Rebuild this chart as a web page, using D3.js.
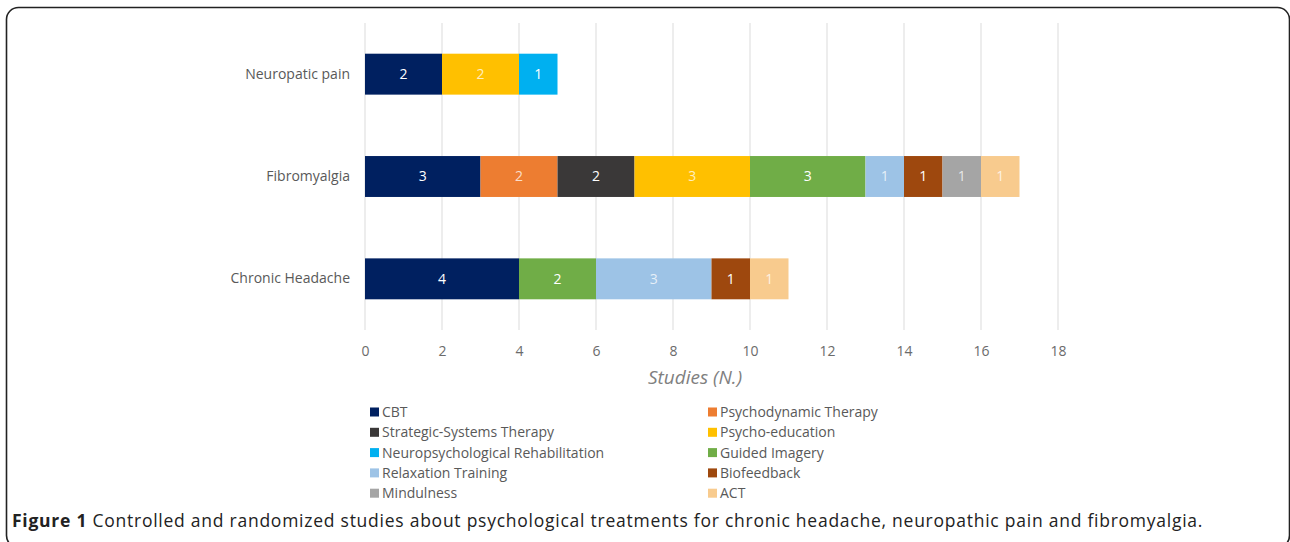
<!DOCTYPE html>
<html lang="en">
<head>
    <meta charset="UTF-8">
    <script src="https://cdn.jsdelivr.net/npm/d3@7"></script>
    <title>Figure 1</title>
    <style>
        body { margin: 0; background: #fff; }
        svg { display: block; }
        text { font-family: "Open Sans", sans-serif; }
    </style>
</head>
<body>
    <div id="chart"></div>
    <script>
        const width = 1290;
        const height = 542;

        const categories = ["Neuropatic pain", "Fibromyalgia", "Chronic Headache"];
        const seriesNames = ["CBT", "Psychodynamic Therapy", "Strategic-Systems Therapy", "Psycho-education",
            "Neuropsychological Rehabilitation", "Guided Imagery", "Relaxation Training", "Biofeedback",
            "Mindulness", "ACT"];
        const seriesColors = ["#002060", "#ED7D31", "#3A3838", "#FFC000", "#00B0F0",
            "#70AD47", "#9DC3E6", "#9E480E", "#A5A5A5", "#F8CB8E"];
        // values per category: [Neuropatic pain, Fibromyalgia, Chronic Headache]
        const cbt = [2, 3, 4];
        const psychodynamic = [0, 2, 0];
        const strategic = [0, 2, 0];
        const psychoEducation = [2, 3, 0];
        const neuroRehab = [1, 0, 0];
        const guidedImagery = [0, 3, 2];
        const relaxation = [0, 1, 3];
        const biofeedback = [0, 1, 1];
        const mindfulness = [0, 1, 0];
        const act = [0, 1, 1];
        const xTicks = [0, 2, 4, 6, 8, 10, 12, 14, 16, 18];

        const seriesValues = [cbt, psychodynamic, strategic, psychoEducation, neuroRehab,
            guidedImagery, relaxation, biofeedback, mindfulness, act];

        const rows = categories.map((c, i) => {
            const r = { category: c };
            seriesNames.forEach((s, j) => r[s] = seriesValues[j][i]);
            return r;
        });

        const svg = d3.select("#chart").append("svg")
            .attr("width", width)
            .attr("height", height);

        // frame
        svg.append("rect")
            .attr("x", 6.5).attr("y", 7.5)
            .attr("width", 1283).attr("height", 540)
            .attr("rx", 12)
            .attr("fill", "none")
            .attr("stroke", "#222")
            .attr("stroke-width", 1.6);

        const x = d3.scaleLinear().domain([0, 18]).range([365, 1058]);
        const y = d3.scaleBand().domain(categories).range([23, 330]).paddingInner(0.6).paddingOuter(0.3);
        const color = d3.scaleOrdinal().domain(seriesNames).range(seriesColors);

        // gridlines
        svg.append("g")
            .selectAll("line")
            .data(xTicks)
            .join("line")
            .attr("x1", d => x(d)).attr("x2", d => x(d))
            .attr("y1", 23).attr("y2", 330)
            .attr("stroke", "#e4e4e4")
            .attr("stroke-width", 1.3);

        // x axis labels
        const xAxis = d3.axisBottom(x).tickValues(xTicks).tickSize(0).tickPadding(0);
        const gx = svg.append("g").attr("transform", "translate(0,346)").call(xAxis);
        gx.select(".domain").remove();
        gx.selectAll("text")
            .attr("fill", "#6b6b6b")
            .style("font-size", "14px")
            .attr("dy", "0.71em");

        svg.append("text")
            .attr("x", 695).attr("y", 384)
            .attr("text-anchor", "middle")
            .attr("fill", "#808080")
            .style("font-size", "19px")
            .style("font-style", "italic")
            .text("Studies (N.)");

        // y axis labels
        const yAxis = d3.axisLeft(y).tickSize(0).tickPadding(15);
        const gy = svg.append("g").attr("transform", "translate(365,0)").call(yAxis);
        gy.select(".domain").remove();
        gy.selectAll("text")
            .attr("fill", "#595959")
            .style("font-size", "14px");

        // stacked bars
        const stacked = d3.stack().keys(seriesNames)(rows);
        const layers = svg.append("g")
            .selectAll("g")
            .data(stacked)
            .join("g")
            .attr("fill", d => color(d.key));

        layers.selectAll("rect")
            .data(d => d.filter(p => p[1] - p[0] > 0))
            .join("rect")
            .attr("x", d => x(d[0]))
            .attr("y", d => y(d.data.category))
            .attr("width", d => x(d[1]) - x(d[0]))
            .attr("height", y.bandwidth());

        layers.selectAll("text")
            .data(d => d.filter(p => p[1] - p[0] > 0))
            .join("text")
            .attr("x", d => (x(d[0]) + x(d[1])) / 2)
            .attr("y", d => y(d.data.category) + y.bandwidth() / 2)
            .attr("dy", "0.35em")
            .attr("text-anchor", "middle")
            .attr("fill", "#ffffff")
            .attr("fill-opacity", function () {
                const k = d3.select(this.parentNode).datum().key;
                return ["Psycho-education", "Relaxation Training", "Mindulness", "ACT", "Psychodynamic Therapy"].includes(k) ? 0.75 : 1;
            })
            .style("font-size", "14px")
            .text(d => d[1] - d[0]);

        // legend
        const legend = svg.append("g")
            .selectAll("g")
            .data(seriesNames)
            .join("g")
            .attr("transform", (d, i) => `translate(${i % 2 === 0 ? 370 : 708},${412 + Math.floor(i / 2) * 20.3})`);

        legend.append("rect")
            .attr("x", 0).attr("y", -4.5)
            .attr("width", 9).attr("height", 9)
            .attr("fill", d => color(d));

        legend.append("text")
            .attr("x", 12).attr("dy", "0.35em")
            .attr("fill", "#595959")
            .style("font-size", "14px")
            .text(d => d);

        // caption
        const caption = svg.append("text")
            .attr("x", 12).attr("y", 527)
            .attr("fill", "#222")
            .style("font-size", "17.5px")
            .style("letter-spacing", "0.75px");
        caption.append("tspan").style("font-weight", "bold").text("Figure 1");
        caption.append("tspan").text(" Controlled and randomized studies about psychological treatments for chronic headache, neuropathic pain and fibromyalgia.");
    </script>
</body>
</html>
